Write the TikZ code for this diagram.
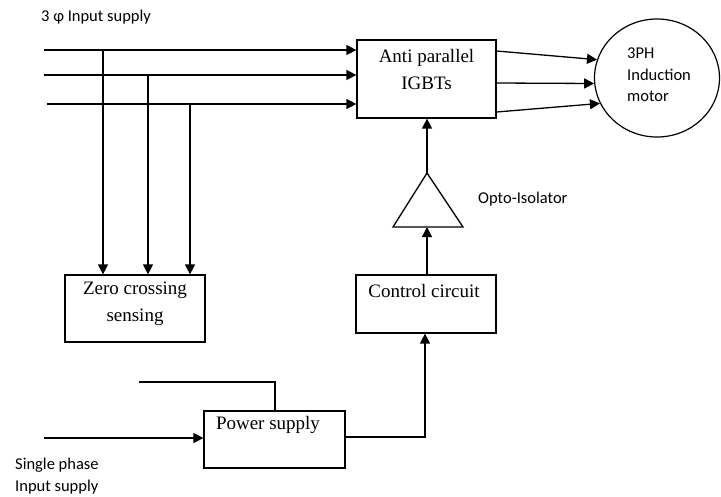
\documentclass[tikz,border=0pt]{standalone}
\usepackage{fontspec}
\setmainfont{Liberation Serif}
\newfontfamily\lblfont{Carlito}
\usetikzlibrary{arrows.meta,shapes.geometric}

\begin{document}
\begin{tikzpicture}[x=1pt,y=-1pt,
  blk/.style={draw,line width=1.2pt,inner sep=0pt},
  btxt/.style={font=\fontsize{19}{27}\selectfont,align=center,inner sep=0pt},
  lbl/.style={font=\lblfont\fontsize{16.5}{21.5}\selectfont,align=left,inner sep=0pt},
  wire/.style={line width=1.3pt},
  arr/.style={line width=1.3pt,-{Triangle[length=10pt,width=10pt]}}]
\useasboundingbox (0,0) rectangle (721,496);

% blocks
\node[blk,minimum width=139pt,minimum height=78pt] (igbt) at (426.5,79) {};
\node[btxt] (igbttxt) at (426.5,69) {Anti parallel\\IGBTs};
\node[blk,ellipse,minimum width=125pt,minimum height=118pt] (mot) at (657,78) {};
\node[lbl,anchor=west] (mottxt) at (627,75) {3PH\\Induction\\motor};

\node[blk,minimum width=140pt,minimum height=67pt] (zc) at (135,308.5) {};
\node[btxt] (zctxt) at (135,304) {Zero crossing\\sensing};

\node[blk,minimum width=140pt,minimum height=58pt] (ctrl) at (426,304) {};
\node[btxt] (ctrltxt) at (424,291) {Control circuit};

\node[blk,minimum width=141pt,minimum height=57pt] (psu) at (274.5,439.5) {};
\node[btxt] (psutxt) at (268,425) {Power supply};

% opto-isolator
\coordinate (optoapex) at (427,173);
\coordinate (optobase) at (427,227);
\draw[wire,line join=miter] (optoapex) -- (393,227) -- (463,227) -- cycle;
\node[lbl,anchor=west] (optotxt) at (478,199) {Opto-Isolator};

% labels
\node[lbl,anchor=west] (tri) at (41,17) {3 φ Input supply};
\node[lbl,anchor=west] (single) at (15,476) {Single phase\\Input supply};

% three phase lines
\coordinate (ph1) at (44,50);
\coordinate (ph2) at (44,75);
\coordinate (ph3) at (47,104);
\draw[arr] (ph1) -- (igbt.west |- ph1);
\draw[arr] (ph2) -- (igbt.west |- ph2);
\draw[arr] (ph3) -- (igbt.west |- ph3);

\coordinate (j1) at (103,50);
\coordinate (j2) at (148,75);
\coordinate (j3) at (190,104);
\draw[arr] (j1) -- (j1 |- zc.north);
\draw[arr] (j2) -- (j2 |- zc.north);
\draw[arr] (j3) -- (j3 |- zc.north);

% to motor
\draw[arr] ([yshift=28pt]igbt.east) -- (mot.163);
\draw[arr] ([yshift=-4pt]igbt.east) -- (mot.185);
\draw[arr] ([yshift=-33pt]igbt.east) -- (mot.204);

% control path
\draw[arr] (optoapex) -- (optoapex |- igbt.south);
\draw[arr] (ctrl.north -| optobase) -- (optobase);
\coordinate (psout) at (425,437);
\draw[arr] (psu.east |- psout) -- (psout) -- (psout |- ctrl.south);

% single phase supply
\coordinate (sp) at (44,438);
\draw[arr] (sp) -- (psu.west |- sp);
\coordinate (aux) at (139,382);
\draw[wire] (aux) -- (aux -| 275,0) -- (275,0 |- psu.north);
\end{tikzpicture}
\end{document}
